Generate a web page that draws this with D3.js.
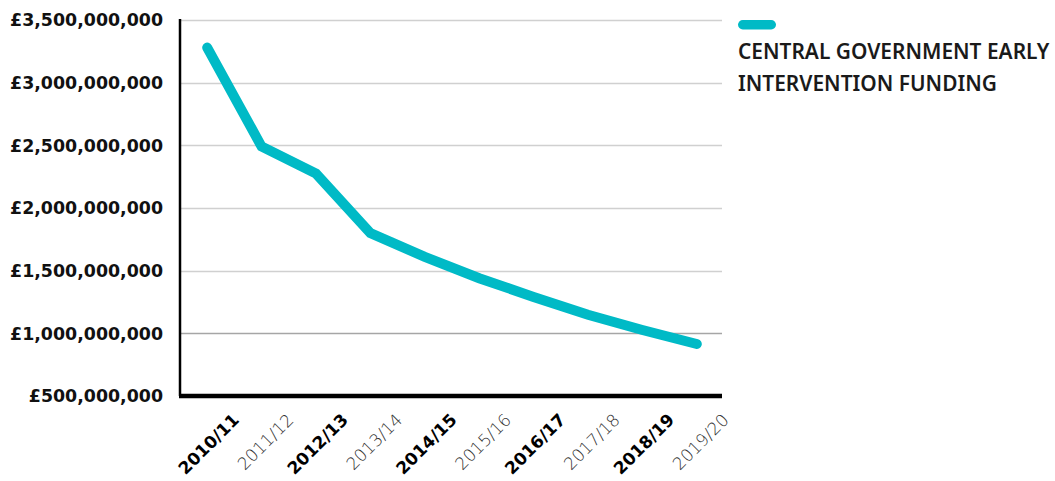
<!DOCTYPE html>
<html>
<head>
<meta charset="utf-8">
<script src="https://cdn.jsdelivr.net/npm/d3@7"></script>
<style>
  body { margin: 0; background: #fff; }
  svg { display: block; font-family: "DejaVu Sans", sans-serif; }
</style>
</head>
<body>
<div id="chart"></div>
<script>
const width = 1055;
const height = 481;

// data
const years = ["2010/11", "2011/12", "2012/13", "2013/14", "2014/15",
  "2015/16", "2016/17", "2017/18", "2018/19", "2019/20"];
const funding = [3280000000, 2490000000, 2275000000, 1800000000, 1610000000,
  1440000000, 1290000000, 1148000000, 1027000000, 915000000];
const yTicks = [500000000, 1000000000, 1500000000, 2000000000, 2500000000, 3000000000, 3500000000];
const seriesName = ["CENTRAL GOVERNMENT EARLY", "INTERVENTION FUNDING"];

const TEAL = "#00bac6";
const margin = { left: 180, right: 722, top: 20, bottom: 396 };

const svg = d3.select("#chart")
  .append("svg")
  .attr("width", width)
  .attr("height", height);

const x = d3.scaleBand()
  .domain(years)
  .range([margin.left, 724]);

const y = d3.scaleLinear()
  .domain([500000000, 3500000000])
  .range([margin.bottom, margin.top]);

// gridlines
svg.append("g")
  .selectAll("line")
  .data(yTicks.slice(1))
  .enter()
  .append("line")
  .attr("x1", margin.left)
  .attr("x2", margin.right)
  .attr("y1", d => Math.round(y(d)) + 0.5)
  .attr("y2", d => Math.round(y(d)) + 0.5)
  .attr("stroke", d => d === 1000000000 ? "#a6a6a6" : "#d0d0d0")
  .attr("stroke-width", 1.3);

// y labels
const fmt = d3.format(",");
svg.append("g")
  .selectAll("text")
  .data(yTicks)
  .enter()
  .append("text")
  .attr("x", 163)
  .attr("y", d => y(d))
  .attr("dy", "0.36em")
  .attr("text-anchor", "end")
  .style("font-size", "17.4px")
  .style("font-weight", 700)
  .style("fill", "#111")
  .text(d => "£" + fmt(d));

// axes
svg.append("line")
  .attr("x1", margin.left)
  .attr("x2", margin.left)
  .attr("y1", margin.top - 1)
  .attr("y2", margin.bottom)
  .attr("stroke", "#000")
  .attr("stroke-width", 2.5);

svg.append("line")
  .attr("x1", margin.left - 1)
  .attr("x2", margin.right)
  .attr("y1", margin.bottom)
  .attr("y2", margin.bottom)
  .attr("stroke", "#000")
  .attr("stroke-width", 4.5);

// x labels
svg.append("g")
  .selectAll("text")
  .data(years)
  .enter()
  .append("text")
  .attr("transform", d => `translate(${x(d) + x.bandwidth() / 2 + 33},${421}) rotate(-45)`)
  .attr("text-anchor", "end")
  .style("font-size", "17px")
  .style("font-weight", (d, i) => i % 2 === 0 ? 700 : 200)
  .style("fill", (d, i) => i % 2 === 0 ? "#000" : "#333")
  .text(d => d);

// line
const line = d3.line()
  .x((d, i) => x(years[i]) + x.bandwidth() / 2)
  .y(d => y(d));

svg.append("path")
  .datum(funding)
  .attr("d", line)
  .attr("fill", "none")
  .attr("stroke", TEAL)
  .attr("stroke-width", 10)
  .attr("stroke-linecap", "round")
  .attr("stroke-linejoin", "miter");

// legend
svg.append("rect")
  .attr("x", 738)
  .attr("y", 20)
  .attr("width", 38)
  .attr("height", 9.5)
  .attr("rx", 4.75)
  .attr("fill", TEAL);

svg.append("g")
  .selectAll("text")
  .data(seriesName)
  .enter()
  .append("text")
  .attr("x", 738)
  .attr("y", (d, i) => 58.5 + i * 32)
  .style("font-family", "'Noto Sans', sans-serif")
  .style("font-size", "20.9px")
  .style("font-weight", 600)
  .style("fill", "#1a1a1a")
  .text(d => d);
</script>
</body>
</html>
